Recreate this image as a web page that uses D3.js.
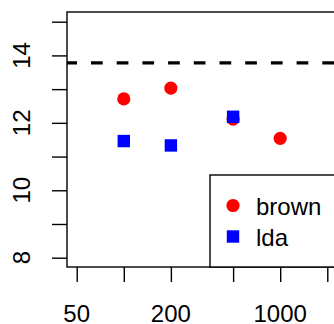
<!DOCTYPE html>
<html>
<head>
<meta charset="utf-8">
<script src="https://cdn.jsdelivr.net/npm/d3@7"></script>
<style>
  html, body { margin: 0; padding: 0; background: #fff; }
  svg { display: block; font-family: "Liberation Sans", Arial, sans-serif; }
</style>
</head>
<body>
<svg id="chart" width="334" height="324"></svg>
<script>
// data
const sizes = [100, 200, 500, 1000];
const brownErr = [12.71, 13.03, 12.11, 11.54];
const ldaSizes = [100, 200, 500];
const ldaErr = [11.46, 11.33, 12.18];
const refLine = 13.78;
const xTicks = [50, 100, 200, 500, 1000, 2000];
const xLabels = [50, 200, 1000];
const yTicks = [8, 9, 10, 11, 12, 13, 14, 15];
const yLabels = [8, 10, 12, 14];
const legendNames = ["brown", "lda"];

const svg = d3.select("#chart");

const plotL = 67, plotT = 12, plotB = 267, plotR = 420;

const x = d3.scaleLog().domain([50, 1000]).range([76.7, 280.2]);
const y = d3.scaleLinear().domain([8, 15]).range([257.7, 21.7]);

// box
svg.append("rect")
  .attr("x", plotL).attr("y", plotT)
  .attr("width", plotR - plotL).attr("height", plotB - plotT)
  .attr("fill", "none").attr("stroke", "#000").attr("stroke-width", 1.4);

// y axis ticks
const gy = svg.append("g").attr("transform", "translate(" + plotL + ",0)")
  .call(d3.axisLeft(y).tickValues(yTicks).tickSize(15).tickFormat(""));
gy.select(".domain").remove();
gy.selectAll(".tick line").attr("stroke-width", 1.4);

svg.selectAll(".ylab").data(yLabels).enter().append("text")
  .attr("class", "ylab")
  .attr("transform", d => "translate(30," + y(d) + ") rotate(-90)")
  .attr("text-anchor", "middle")
  .attr("font-size", 24)
  .attr("fill", "#000")
  .text(d => d);

// x axis ticks
const gx = svg.append("g").attr("transform", "translate(0," + plotB + ")")
  .call(d3.axisBottom(x).tickValues(xTicks).tickSize(15).tickFormat(""));
gx.select(".domain").remove();
gx.selectAll(".tick line").attr("stroke-width", 1.4);

svg.selectAll(".xlab").data(xLabels).enter().append("text")
  .attr("class", "xlab")
  .attr("x", d => x(d)).attr("y", 322)
  .attr("text-anchor", "middle")
  .attr("font-size", 24)
  .attr("fill", "#000")
  .text(d => d);

// reference line
svg.append("line")
  .attr("x1", plotL).attr("x2", 334)
  .attr("y1", y(refLine)).attr("y2", y(refLine))
  .attr("stroke", "#000").attr("stroke-width", 3.2)
  .attr("stroke-dasharray", "11.7,14")
  .attr("stroke-dashoffset", 1.7);

// points
svg.selectAll(".brown").data(sizes).enter().append("circle")
  .attr("class", "brown")
  .attr("cx", d => x(d)).attr("cy", (d, i) => y(brownErr[i]))
  .attr("r", 6.6).attr("fill", "#ff0000");

svg.selectAll(".lda").data(ldaSizes).enter().append("rect")
  .attr("class", "lda")
  .attr("x", d => x(d) - 6.2).attr("y", (d, i) => y(ldaErr[i]) - 6.2)
  .attr("width", 12.4).attr("height", 12.4).attr("fill", "#0000ff");

// legend
const leg = svg.append("g");
leg.append("rect")
  .attr("x", 210).attr("y", 175).attr("width", 200).attr("height", plotB - 175)
  .attr("fill", "#fff").attr("stroke", "#000").attr("stroke-width", 1.4);
leg.append("circle").attr("cx", 233).attr("cy", 205.5).attr("r", 6.6).attr("fill", "#ff0000");
leg.append("rect").attr("x", 233 - 6.2).attr("y", 236.5 - 6.2)
  .attr("width", 12.4).attr("height", 12.4).attr("fill", "#0000ff");
leg.selectAll(".legtext").data(legendNames).enter().append("text")
  .attr("class", "legtext")
  .attr("x", 256).attr("y", (d, i) => 214.5 + i * 31)
  .attr("font-size", 24).attr("fill", "#000")
  .text(d => d);
</script>
</body>
</html>
